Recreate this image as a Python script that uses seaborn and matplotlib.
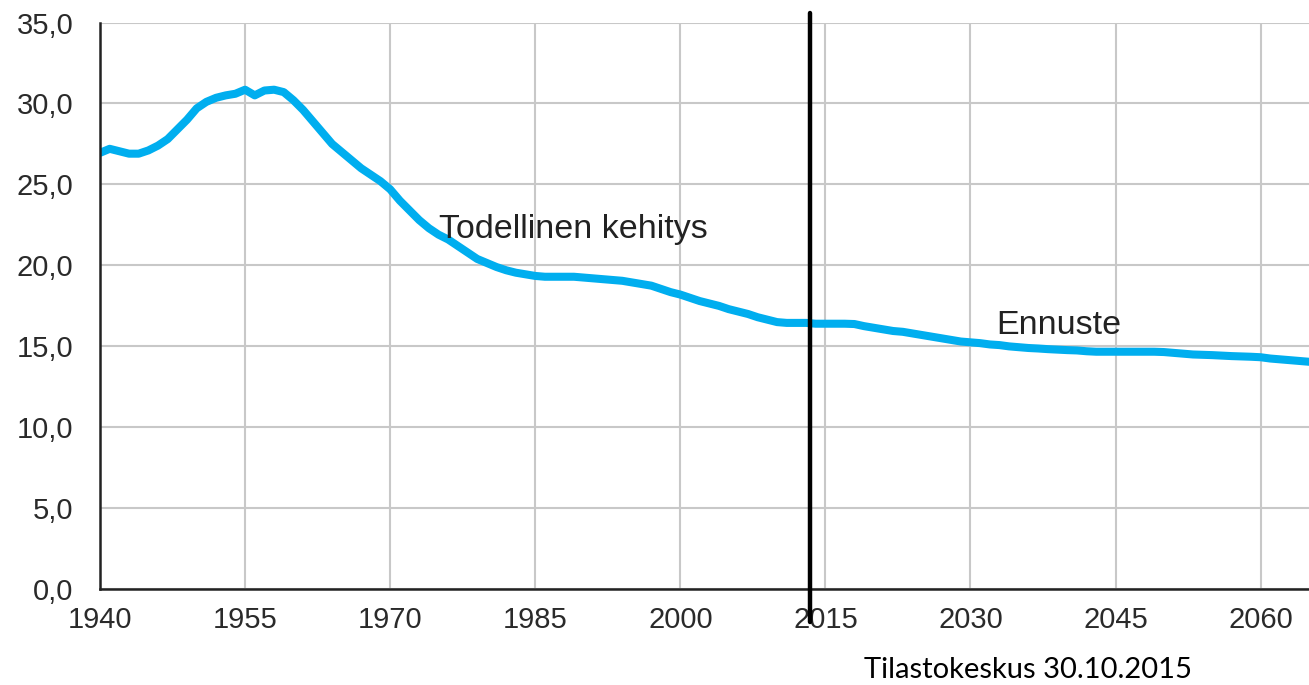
import numpy as np
import pandas as pd
import matplotlib
matplotlib.use("Agg")
import matplotlib.pyplot as plt
import seaborn as sns
from matplotlib.ticker import FixedLocator, MultipleLocator, FuncFormatter

# -----------------------------
# Data (share, %)
# -----------------------------
years_actual = list(range(1940, 2015))
values_actual = [
    26.95, 27.2, 27.05, 26.9, 26.9, 27.1, 27.4, 27.8, 28.4, 29.0,   # 1940-49
    29.7, 30.1, 30.35, 30.5, 30.6, 30.85, 30.5, 30.8, 30.85, 30.7,  # 1950-59
    30.2, 29.6, 28.9, 28.2, 27.5, 27.0, 26.5, 26.0, 25.6, 25.2,     # 1960-69
    24.7, 24.0, 23.4, 22.8, 22.3, 21.9, 21.6, 21.2, 20.8, 20.4,     # 1970-79
    20.15, 19.9, 19.7, 19.55, 19.45, 19.35, 19.3, 19.3, 19.3, 19.3, # 1980-89
    19.25, 19.2, 19.15, 19.1, 19.05, 18.95, 18.85, 18.75, 18.55, 18.35,  # 1990-99
    18.2, 18.0, 17.8, 17.65, 17.5, 17.3, 17.15, 17.0, 16.8, 16.65,  # 2000-09
    16.5, 16.45, 16.45, 16.45, 16.4,                                # 2010-14
]
years_forecast = list(range(2015, 2066))
values_forecast = [
    16.4, 16.4, 16.4, 16.38, 16.25, 16.15, 16.05, 15.95, 15.9, 15.8,     # 2015-24
    15.7, 15.6, 15.5, 15.4, 15.3, 15.25, 15.2, 15.12, 15.08, 15.0,       # 2025-34
    14.95, 14.9, 14.87, 14.83, 14.8, 14.77, 14.75, 14.7, 14.67, 14.67,   # 2035-44
    14.67, 14.67, 14.67, 14.67, 14.67, 14.65, 14.6, 14.55, 14.5, 14.48,  # 2045-54
    14.46, 14.43, 14.4, 14.38, 14.36, 14.33, 14.25, 14.2, 14.15, 14.1,   # 2055-64
    14.05,                                                               # 2065
]
x_ticks = [1940, 1955, 1970, 1985, 2000, 2015, 2030, 2045, 2060]
split_year = 2013.4
label_actual = "Todellinen kehitys"
label_forecast = "Ennuste"
source_text = "Tilastokeskus 30.10.2015"

df = pd.DataFrame({
    "year": years_actual + years_forecast,
    "value": values_actual + values_forecast,
})

# -----------------------------
# Plot
# -----------------------------
sns.set_style("white")
plt.rcParams["font.family"] = ["Liberation Sans", "DejaVu Sans"]

fig = plt.figure(figsize=(13.09, 6.85), dpi=100)
ax = fig.add_axes([100 / 1309, 1 - 589.3 / 685, 1 - 100 / 1309, (589.3 - 22.5) / 685])

sns.lineplot(data=df, x="year", y="value", color="#00AEEF", linewidth=5.8, ax=ax,
             solid_capstyle="round", zorder=3)

ax.set_xlim(1940, 2065)
ax.set_ylim(0, 35)
ax.xaxis.set_major_locator(FixedLocator(x_ticks))
ax.xaxis.set_minor_locator(FixedLocator([t + 7.5 for t in x_ticks]))
ax.yaxis.set_major_locator(MultipleLocator(5))
ax.yaxis.set_major_formatter(FuncFormatter(lambda v, p: f"{v:.1f}".replace(".", ",")))

ax.grid(True, which="major", color="#C8C8C8", linewidth=1.5)
ax.set_axisbelow(True)
for side in ["top", "right"]:
    ax.spines[side].set_visible(False)
for side in ["left", "bottom"]:
    ax.spines[side].set_color("#222222")
    ax.spines[side].set_linewidth(1.8)
    ax.spines[side].set_zorder(4)

ax.tick_params(axis="x", which="major", direction="in", length=6, width=1.5,
               color="#222222", labelsize=21, pad=12, labelcolor="#2a2a2a")
ax.tick_params(axis="x", which="minor", direction="in", length=4.5, width=1.5,
               color="#222222")
ax.tick_params(axis="y", length=0, labelsize=21, pad=19, labelcolor="#2a2a2a")
ax.set_xlabel("")
ax.set_ylabel("")

# dividing line between history and forecast
ax.plot([split_year, split_year], [35.6, -2.0], color="black", linewidth=3.2,
        clip_on=False, zorder=5)

ax.text(1975, 21.7, label_actual, fontsize=24.5, color="#222222", ha="left", va="baseline")
ax.text(2032.7, 15.75, label_forecast, fontsize=24.5, color="#222222", ha="left", va="baseline")

fig.text(1192 / 1309, 1 - 678 / 685, source_text, fontsize=21, ha="right", va="baseline",
         family=["Lato", "DejaVu Sans"], color="black")

fig.savefig("out.png", dpi=100)
